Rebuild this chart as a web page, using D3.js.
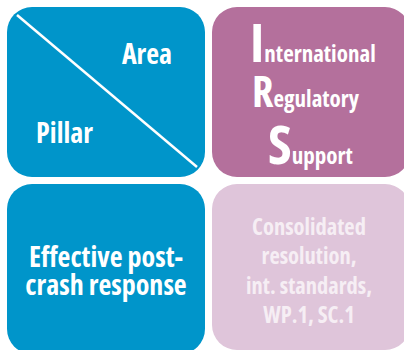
<!DOCTYPE html>
<html>
<head>
<meta charset="utf-8">
<script src="https://cdn.jsdelivr.net/npm/d3@7/dist/d3.min.js"></script>
<style>
html,body{margin:0;padding:0;background:#fff;}
svg{display:block;}
text{font-family:"Open Sans",sans-serif;font-weight:700;font-stretch:75%;}
</style>
</head>
<body>
<svg id="chart" width="404" height="350"></svg>
<script>
// ---- data ----
const columns = ["c0", "c1"];
const rows = ["r0", "r1"];
const cells = ["area", "irs", "response", "consolidated"];
const cellColumn = ["c0", "c1", "c0", "c1"];
const cellRow = ["r0", "r0", "r1", "r1"];
const cellFill = ["#0095CA", "#B4709C", "#0095CA", "#DFC5DA"];
const headerLabels = ["Area", "Pillar"];
const irsInitials = ["I", "R", "S"];
const irsRests = ["nternational", "egulatory", "upport"];
const responseLines = ["Effective post-", "crash response"];
const consolidatedLines = ["Consolidated", "resolution,", "int. standards,", "WP.1, SC.1"];

// ---- layout ----
const svg = d3.select("#chart");
const x = d3.scaleBand().domain(columns).range([7, 410]).paddingInner(7 / 205);
const y = d3.scaleBand().domain(rows).range([7, 354]).paddingInner(7 / 177);
const R = 25;

svg.selectAll("rect.cell")
  .data(cells)
  .join("rect")
  .attr("class", "cell")
  .attr("x", (d, i) => x(cellColumn[i]))
  .attr("y", (d, i) => y(cellRow[i]))
  .attr("width", x.bandwidth())
  .attr("height", (d, i) => y.bandwidth() - (cellColumn[i] === "c1" && cellRow[i] === "r1" ? 4 : 0))
  .attr("rx", R).attr("ry", R)
  .attr("fill", (d, i) => cellFill[i]);

const x0 = x("c0"), y0 = y("r0"), bw = x.bandwidth(), bh = y.bandwidth();
svg.append("line")
  .attr("x1", x0 + 10).attr("y1", y0 + 8)
  .attr("x2", x0 + bw - 8).attr("y2", y0 + bh - 10)
  .attr("stroke", "#fff").attr("stroke-width", 2.5);

svg.append("text").attr("x", x0 + 140).attr("y", y0 + 57)
  .attr("text-anchor", "middle").attr("font-size", 28).attr("fill", "#fff")
  .text(headerLabels[0]);
svg.append("text").attr("x", x0 + 57.5).attr("y", y0 + 136)
  .attr("text-anchor", "middle").attr("font-size", 28).attr("fill", "#fff")
  .text(headerLabels[1]);

const x1 = x("c1"), y1 = y("r0");
const irsInitX = [38, 40, 56];
const irsBase = [55, 100, 157];
const irsInitSize = [54, 42, 54];
irsInitials.forEach((ch, i) => {
  const t = svg.append("text").attr("y", y1 + irsBase[i]).attr("fill", "#fff");
  t.append("tspan").attr("x", x1 + irsInitX[i]).attr("font-size", irsInitSize[i]).text(ch);
  t.append("tspan").attr("font-size", 23).text(irsRests[i]);
});

const x2 = x("c0"), y2 = y("r1");
svg.append("g").selectAll("text")
  .data(responseLines)
  .join("text")
  .attr("x", x2 + 99)
  .attr("y", (d, i) => y2 + 83 + i * 28)
  .attr("text-anchor", "middle").attr("font-size", 28).attr("fill", "#fff")
  .text(d => d);

const x3 = x("c1"), y3 = y("r1");
svg.append("g").selectAll("text")
  .data(consolidatedLines)
  .join("text")
  .attr("x", x3 + 97)
  .attr("y", (d, i) => y3 + 51 + i * 29.3)
  .attr("text-anchor", "middle").attr("font-size", 22.5).attr("fill", "#F6EEF4")
  .text(d => d);
</script>
</body>
</html>
